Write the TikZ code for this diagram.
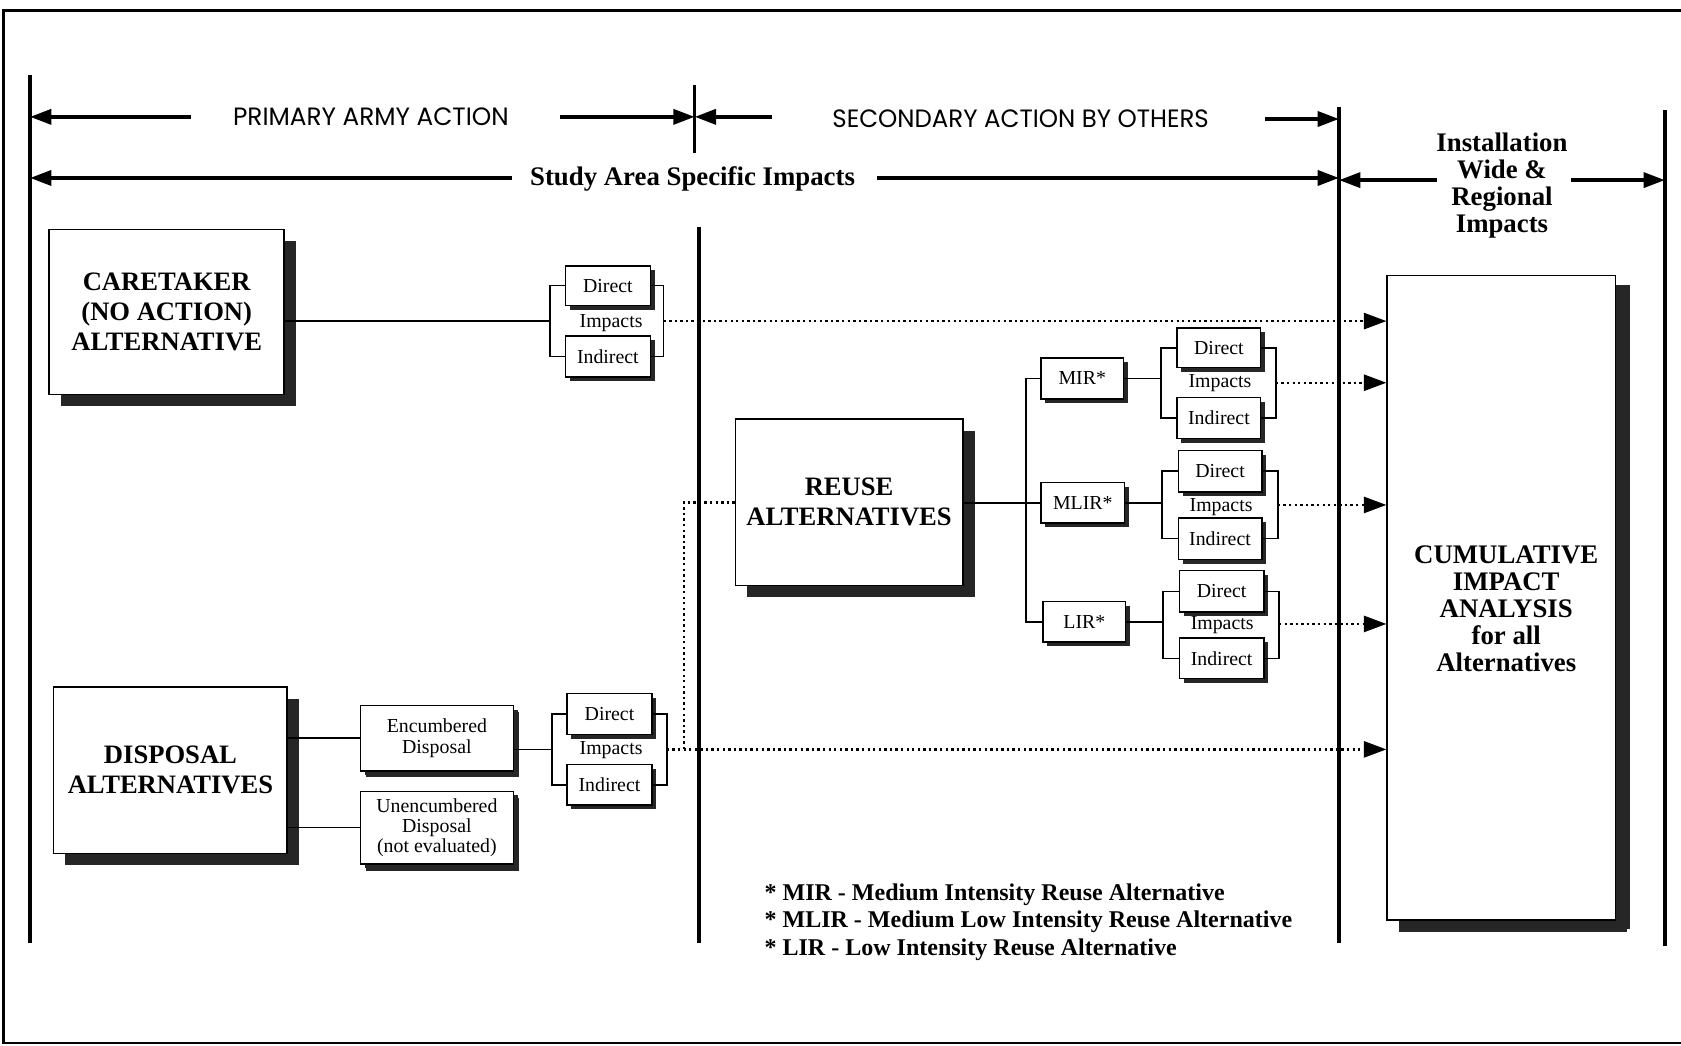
\documentclass[tikz,border=0pt]{standalone}
\usepackage{fontspec}
\setmainfont{Liberation Serif}
\newfontfamily\geofont{Poppins}
\usetikzlibrary{arrows.meta,shadows}
\begin{document}
\begin{tikzpicture}[x=1pt,y=-1pt,
  framel/.style={line width=2.4pt},
  divider/.style={line width=3pt},
  bigarrow/.style={line width=3.5pt,-{Triangle[length=20pt,width=14pt]}},
  conn/.style={line width=1.4pt},
  dotline/.style={line width=2.3pt,dash pattern=on 2.2pt off 3pt},
  dotarrow/.style={dotline,-{Triangle[length=21pt,width=15pt]}},
  bigbox/.style={draw,line width=1.6pt,fill=white,inner sep=0pt,align=center,
     font=\bfseries\fontsize{24.8}{28}\selectfont,
     drop shadow={shadow xshift=11pt,shadow yshift=-11pt,opacity=1,fill=black!85}},
  smallbox/.style={draw,line width=1.3pt,fill=white,inner sep=0pt,align=center,
     minimum width=79pt,minimum height=38pt,
     font=\fontsize{18.5}{19.5}\selectfont,
     drop shadow={shadow xshift=4pt,shadow yshift=-4pt,opacity=1,fill=black!85}},
  lbl/.style={inner sep=0pt,font=\fontsize{18.5}{19.5}\selectfont},
  boldtxt/.style={inner sep=0pt,align=center,font=\bfseries\fontsize{25}{25}\selectfont},
]
\useasboundingbox (0,0) rectangle (1568,975);
% outer frame
\draw[framel] (1568,10) -- (3,10) -- (3,973) -- (1568,973);

% dividers
\coordinate (v1t) at (28,70);    \coordinate (v1b) at (28,880);
\coordinate (v2t) at (648,79);   \coordinate (v2b) at (648,143);
\coordinate (v3t) at (652,212);  \coordinate (v3b) at (652,880);
\coordinate (v4t) at (1249,100); \coordinate (v4b) at (1249,880);
\coordinate (v5t) at (1553,103); \coordinate (v5b) at (1553,882);
\draw[divider] (v1t) -- (v1b);
\draw[divider] (v2t) -- (v2b);
\draw[divider] (v3t) -- (v3b);
\draw[divider] (v4t) -- (v4b);
\draw[divider] (v5t) -- (v5b);

% header texts
\node[anchor=base,inner sep=0pt] (primary) at (346,117.5)
  {\resizebox{257pt}{16.5pt}{\geofont PRIMARY ARMY ACTION}};
\node[anchor=base,inner sep=0pt] (secondary) at (952,119)
  {\resizebox{351pt}{16.5pt}{\geofont SECONDARY ACTION BY OTHERS}};
\node[boldtxt,anchor=base] (study) at (646,173) {Study Area Specific Impacts};
\node[boldtxt] (install) at (1401,173) {Installation\\Wide \&\\Regional\\Impacts};

% header arrows
\coordinate (a1) at (178,109);  \draw[bigarrow] (a1) -- (a1 -| v1t);
\coordinate (a2) at (522,109);  \draw[bigarrow] (a2) -- (a2 -| v2t);
\coordinate (a3) at (720,109);  \draw[bigarrow] (a3) -- (a3 -| v2t);
\coordinate (a4) at (1180,111); \draw[bigarrow] (a4) -- (a4 -| v4t);
\coordinate (b1) at (478,166);  \draw[bigarrow] (b1) -- (b1 -| v1t);
\coordinate (b2) at (818,166);  \draw[bigarrow] (b2) -- (b2 -| v4t);
\coordinate (b3) at (1340,168); \draw[bigarrow] (b3) -- (b3 -| v4t);
\coordinate (b4) at (1465,168); \draw[bigarrow] (b4) -- (b4 -| v5t);

% big boxes
\node[bigbox,minimum width=219pt,minimum height=154pt] (care) at (155.5,291)
  {CARETAKER\\(NO ACTION)\\ALTERNATIVE};
\node[bigbox,minimum width=218pt,minimum height=155pt] (disp) at (159,718.5)
  {DISPOSAL\\ALTERNATIVES};
\node[bigbox,minimum width=212pt,minimum height=155pt] (reuse) at (792,468.5)
  {REUSE\\ALTERNATIVES};
\node[bigbox,minimum width=213pt,minimum height=601pt,
  drop shadow={shadow xshift=13pt,shadow yshift=-9pt,opacity=1,fill=black!85}] (cum) at (1400.5,557.5) {};
\node[boldtxt,font=\bfseries\fontsize{25}{25.3}\selectfont] (cumtxt) at (1405,568)
  {CUMULATIVE\\IMPACT\\ANALYSIS\\for all\\Alternatives};

% caretaker impacts
\node[smallbox,minimum height=37pt] (cd) at (567,266.5) {Direct};
\node[smallbox] (ci) at (567,332.5) {Indirect};
\node[lbl] (cimp) at (570,301) {Impacts};
\coordinate (cbl) at (513,299.5); \coordinate (cbr) at (619,299.5);
\draw[conn] (cd.west) -- (cd.west -| cbl) -- (ci.west -| cbl) -- (ci.west);
\draw[conn] (cd.east) -- (cd.east -| cbr) -- (ci.east -| cbr) -- (ci.east);
\draw[conn] (care.east |- cbl) -- (cbl);
\draw[dotarrow] (cbr) -- (cbr -| cum.west);

% reuse alternatives
\node[smallbox,minimum width=77pt] (mir) at (1009.5,353) {MIR*};
\node[smallbox,minimum width=78pt] (mlir) at (1010,469) {MLIR*};
\node[smallbox,minimum width=77pt] (lir) at (1011.5,580) {LIR*};
\coordinate (trunk) at (957,469);
\draw[conn] (mir.west) -- (mir.west -| trunk) -- (lir.west -| trunk) -- (lir.west);
\draw[conn] (reuse.east |- mlir) -- (mlir.west);

% MIR impacts
\node[smallbox,minimum width=78pt,minimum height=37pt] (md) at (1137,324.5) {Direct};
\node[smallbox,minimum width=78pt] (mi) at (1137,390) {Indirect};
\node[lbl] (mimp) at (1138,357) {Impacts};
\coordinate (mbl) at (1083,357); \coordinate (mbr) at (1190,357);
\draw[conn] (md.west) -- (md.west -| mbl) -- (mi.west -| mbl) -- (mi.west);
\draw[conn] (md.east) -- (md.east -| mbr) -- (mi.east -| mbr) -- (mi.east);
\draw[conn] (mir.east) -- (mir.east -| mbl);
\draw[dotarrow] (mbr) -- (mbr -| cum.west);

% MLIR impacts
\node[smallbox,minimum width=78pt,minimum height=39pt] (ld) at (1138,439.5) {Direct};
\node[smallbox,minimum width=78pt,minimum height=39pt] (li) at (1138,502.5) {Indirect};
\node[lbl] (limp) at (1139,473) {Impacts};
\coordinate (lbl) at (1084,471); \coordinate (lbr) at (1192,471);
\draw[conn] (ld.west) -- (ld.west -| lbl) -- (li.west -| lbl) -- (li.west);
\draw[conn] (ld.east) -- (ld.east -| lbr) -- (li.east -| lbr) -- (li.east);
\draw[conn] (mlir.east) -- (mlir.east -| lbl);
\draw[dotarrow] (lbr) -- (lbr -| cum.west);

% LIR impacts
\node[smallbox,minimum height=39pt] (rd) at (1139.5,551.5) {Direct};
\node[smallbox] (ri) at (1139.5,614) {Indirect};
\node[lbl] (rimp) at (1140,583) {Impacts};
\coordinate (rbl) at (1085,582); \coordinate (rbr) at (1193,582);
\draw[conn] (rd.west) -- (rd.west -| rbl) -- (ri.west -| rbl) -- (ri.west);
\draw[conn] (rd.east) -- (rd.east -| rbr) -- (ri.east -| rbr) -- (ri.east);
\draw[conn] (lir.east) -- (lir.east -| rbl);
\draw[dotarrow] (rbr) -- (rbr -| cum.west);

% disposal branch
\node[smallbox,minimum width=143pt,minimum height=61pt,font=\fontsize{18.5}{20}\selectfont,
  drop shadow={shadow xshift=5pt,shadow yshift=-6pt,opacity=1,fill=black!85}] (enc) at (407.5,688.5)
  {Encumbered\\Disposal};
\node[smallbox,minimum width=143pt,minimum height=68pt,font=\fontsize{18.5}{18.5}\selectfont,
  drop shadow={shadow xshift=5pt,shadow yshift=-6pt,opacity=1,fill=black!85}] (unenc) at (407.5,772)
  {Unencumbered\\Disposal\\(not evaluated)};
\draw[conn] (disp.east |- enc) -- (enc.west);
\draw[conn] (disp.east |- unenc) -- (unenc.west);
\node[smallbox] (dd) at (568.5,666) {Direct};
\node[smallbox] (di) at (568.5,732) {Indirect};
\node[lbl] (dimp) at (570,700) {Impacts};
\coordinate (dbl) at (515,699); \coordinate (dbr) at (622,699);
\draw[conn] (dd.west) -- (dd.west -| dbl) -- (di.west -| dbl) -- (di.west);
\draw[conn] (dd.east) -- (dd.east -| dbr) -- (di.east -| dbr) -- (di.east);
\draw[conn] (enc.east |- dbl) -- (dbl);
\draw[dotarrow] (dbr) -- (dbr -| cum.west);
\coordinate (dj) at (638,699);
\draw[dotline] (dj) -- (dj |- reuse) -- (reuse.west);

% legend
\node[anchor=west,align=left,inner sep=0pt,font=\bfseries\fontsize{22.4}{25.5}\selectfont] (legend) at (713,860)
  {* MIR - Medium Intensity Reuse Alternative\\* MLIR - Medium Low Intensity Reuse Alternative\\* LIR - Low Intensity Reuse Alternative};
\end{tikzpicture}
\end{document}
